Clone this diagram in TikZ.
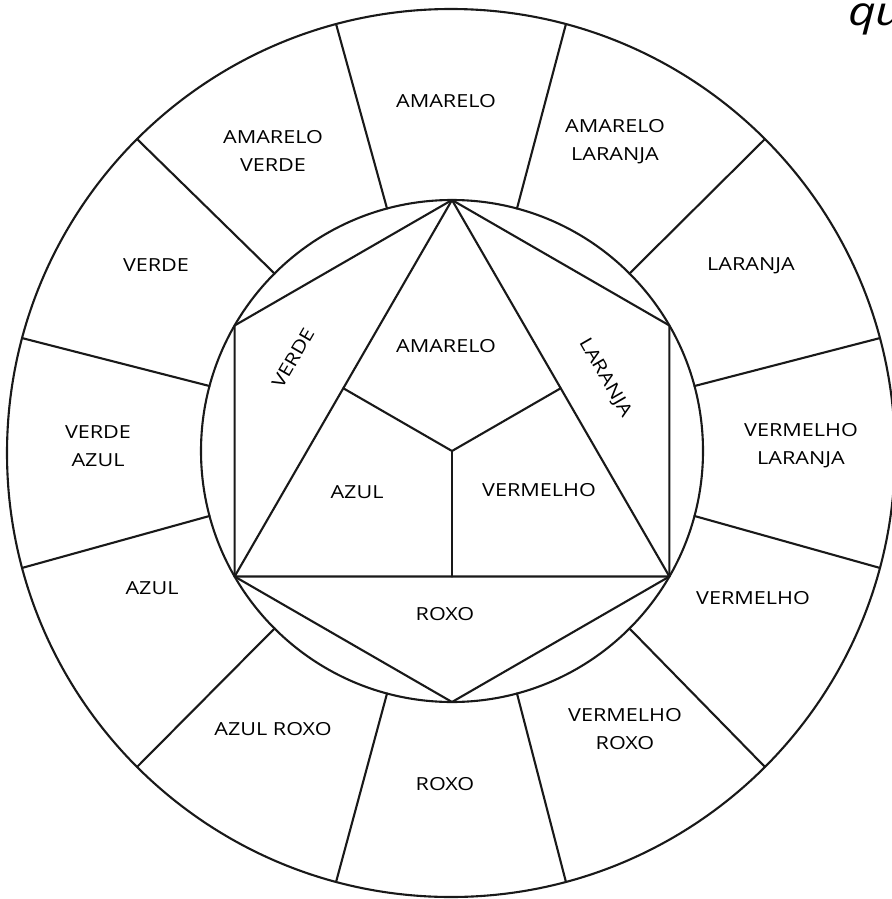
\documentclass[tikz,border=0pt]{standalone}
\usepackage{fontspec}
\usetikzlibrary{calc}
\setmainfont{Open Sans}[FakeStretch=1.2]
\tikzset{
  ln/.style={draw=black!90, line width=2.1pt, line join=round, line cap=round},
  lbl/.style={align=center, font=\fontsize{18}{28}\selectfont, inner sep=0pt},
}
\begin{document}
\begin{tikzpicture}[x=1pt, y=-1pt]
\useasboundingbox (0,0) rectangle (891,899);
% centres
\coordinate (ci) at (452,451);
\coordinate (co) at (451,453);
% hexagon vertices
\coordinate (T)  at (452,200);
\coordinate (UL) at (234.6,325.5);
\coordinate (LL) at (234.6,576.5);
\coordinate (B)  at (452,702);
\coordinate (LR) at (669.4,576.5);
\coordinate (UR) at (669.4,325.5);
\coordinate (ML) at (343.3,388.25);
\coordinate (MR) at (560.7,388.25);
\coordinate (MB) at (452,576.5);
% circles
\draw[ln] (co) circle[radius=444];
\draw[ln] (ci) circle[radius=251];
% dividers
\foreach \a in {15,45,...,345}{
  \draw[ln] ($(ci)+(\a:251)$) -- ($(co)+(\a:444)$);
}
% hexagon and triangle
\draw[ln] (T) -- (UL) -- (LL) -- (B) -- (LR) -- (UR) -- cycle;
\draw[ln] (T) -- (LL) -- (LR) -- cycle;
\draw[ln] (ML) -- (ci) -- (MR);
\draw[ln] (ci) -- (MB);
% outer labels
\node[lbl] (o1) at (446,101) {AMARELO};
\node[lbl] (o2) at (273,151) {AMARELO\\VERDE};
\node[lbl] (o3) at (615,142) {AMARELO\\LARANJA};
\node[lbl] (o4) at (156,265) {VERDE};
\node[lbl] (o5) at (751,266) {LARANJA};
\node[lbl] (o6) at (98,446) {VERDE\\AZUL};
\node[lbl] (o7) at (801,446) {VERMELHO\\LARANJA};
\node[lbl] (o8) at (152,588) {AZUL};
\node[lbl] (o9) at (753,598) {VERMELHO};
\node[lbl] (o10) at (273,729) {AZUL ROXO};
\node[lbl] (o11) at (625,729) {VERMELHO\\ROXO};
\node[lbl] (o12) at (445,784) {ROXO};
% inner labels
\node[lbl] (i1) at (446,346) {AMARELO};
\node[lbl, rotate=60] (i2) at (293,358) {VERDE};
\node[lbl, rotate=-60] (i3) at (605,378) {LARANJA};
\node[lbl] (i4) at (357,492) {AZUL};
\node[lbl] (i5) at (539,490) {VERMELHO};
\node[lbl] (i6) at (445,614) {ROXO};
% cut-off title
\node[anchor=base west, inner sep=0pt, font=\fontsize{40}{44}\selectfont\itshape] (qu) at (848,26) {qu};
\end{tikzpicture}
\end{document}
